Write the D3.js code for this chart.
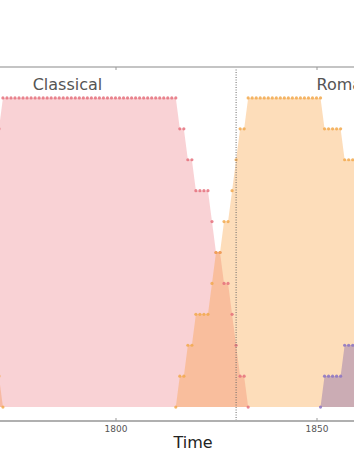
<!DOCTYPE html>
<html>
<head>
<meta charset="utf-8">
<script src="https://cdn.jsdelivr.net/npm/d3@7"></script>
<style>
  body { margin: 0; background: #fff; }
  svg { display: block; font-family: "DejaVu Sans", sans-serif; }
</style>
</head>
<body>
<svg width="354" height="460"></svg>
<script>
// yearly share of each era, each series starts at its own year
let baroqueStart = 1771;
let baroqueValues = [0.1, 0];

let classicalStart = 1771;
let classicalValues = [0.9,
    1, 1, 1, 1, 1, 1, 1, 1, 1, 1, 1, 1, 1, 1, 1, 1, 1, 1, 1, 1, 1, 1,
    1, 1, 1, 1, 1, 1, 1, 1, 1, 1, 1, 1, 1, 1, 1, 1, 1, 1, 1, 1, 1, 1,
    0.9, 0.9, 0.8, 0.8, 0.7, 0.7, 0.7, 0.7, 0.6, 0.5, 0.5, 0.4, 0.4, 0.3, 0.2, 0.1, 0.1, 0];

let romanticStart = 1815;
let romanticValues = [0, 0.1, 0.1, 0.2, 0.2, 0.3, 0.3, 0.3, 0.3, 0.4, 0.5, 0.5, 0.6, 0.6, 0.7, 0.8, 0.9, 0.9,
    1, 1, 1, 1, 1, 1, 1, 1, 1, 1, 1, 1, 1, 1, 1, 1, 1, 1, 1,
    0.9, 0.9, 0.9, 0.9, 0.9, 0.8, 0.8, 0.8, 0.8];

let modernStart = 1851;
let modernValues = [0, 0.1, 0.1, 0.1, 0.1, 0.1, 0.2, 0.2, 0.2, 0.2];

let eraLabels = ["Classical", "Romantic"];
let eraLabelYears = [1779.4, 1850];
let eraBoundary = 1830;
let tickYears = [1800, 1850];

let series = [
    { name: "Baroque", start: baroqueStart, values: baroqueValues, fill: "#fa9628", fillOpacity: 0.32, marker: "#f2a94e" },
    { name: "Classical", start: classicalStart, values: classicalValues, fill: "#e85f69", fillOpacity: 0.28, marker: "#e5717c" },
    { name: "Romantic", start: romanticStart, values: romanticValues, fill: "#fa9628", fillOpacity: 0.32, marker: "#f2a94e" },
    { name: "Modern", start: modernStart, values: modernValues, fill: "#6e50aa", fillOpacity: 0.35, marker: "#8a73c4" }
];

let svg = d3.select("svg");
let plotTop = 67, plotBottom = 421;

let x = d3.scaleLinear().domain([1800, 1850]).range([115.5, 316.5]);
let y = d3.scaleLinear().domain([-0.045, 1.1]).range([plotBottom, plotTop]);

let area = d3.area()
    .x(d => x(d.year))
    .y0(y(0))
    .y1(d => y(d.value));

// fills first so markers sit on top of every area
series.forEach(s => {
    s.points = s.values.map((v, i) => ({ year: s.start + i, value: v }));
    svg.append("path")
        .datum(s.points)
        .attr("d", area)
        .attr("fill", s.fill)
        .attr("fill-opacity", s.fillOpacity);
});

series.forEach(s => {
    svg.append("g")
        .selectAll("circle")
        .data(s.points)
        .join("circle")
        .attr("cx", d => x(d.year))
        .attr("cy", d => y(d.value))
        .attr("r", 1.6)
        .attr("fill", s.marker)
        .attr("fill-opacity", 0.85);
});

// era boundary
svg.append("line")
    .attr("x1", x(eraBoundary)).attr("x2", x(eraBoundary))
    .attr("y1", plotTop).attr("y2", plotBottom)
    .attr("stroke", "#6b6b6b")
    .attr("stroke-width", 1)
    .attr("stroke-dasharray", "1,1.5");

// spines
svg.append("line")
    .attr("x1", 0).attr("x2", 354).attr("y1", plotTop).attr("y2", plotTop)
    .attr("stroke", "#c4c4c4").attr("stroke-width", 2);
svg.append("line")
    .attr("x1", 0).attr("x2", 354).attr("y1", plotBottom).attr("y2", plotBottom)
    .attr("stroke", "#b0b0b0").attr("stroke-width", 2);

let xAxis = svg.append("g")
    .attr("transform", `translate(0,${plotBottom})`)
    .call(d3.axisBottom(x).tickValues(tickYears).tickFormat(d3.format("d")).tickSize(-3).tickPadding(5));
xAxis.select(".domain").remove();
xAxis.selectAll("line").attr("stroke", "#999");
xAxis.selectAll("text")
    .attr("fill", "#555")
    .style("font-size", "9px")
    .style("font-family", "DejaVu Sans, sans-serif");

let topAxis = svg.append("g")
    .attr("transform", `translate(0,${plotTop})`)
    .call(d3.axisTop(x).tickValues(tickYears).tickFormat("").tickSize(-3));
topAxis.select(".domain").remove();
topAxis.selectAll("line").attr("stroke", "#999");

svg.selectAll(".era-label")
    .data(eraLabels)
    .join("text")
    .attr("class", "era-label")
    .attr("x", (d, i) => x(eraLabelYears[i]))
    .attr("y", 90)
    .attr("fill", "#555")
    .style("font-size", "16px")
    .text(d => d);

svg.append("text")
    .attr("x", 193)
    .attr("y", 448)
    .attr("text-anchor", "middle")
    .attr("fill", "#222")
    .style("font-size", "16px")
    .text("Time");
</script>
</body>
</html>
